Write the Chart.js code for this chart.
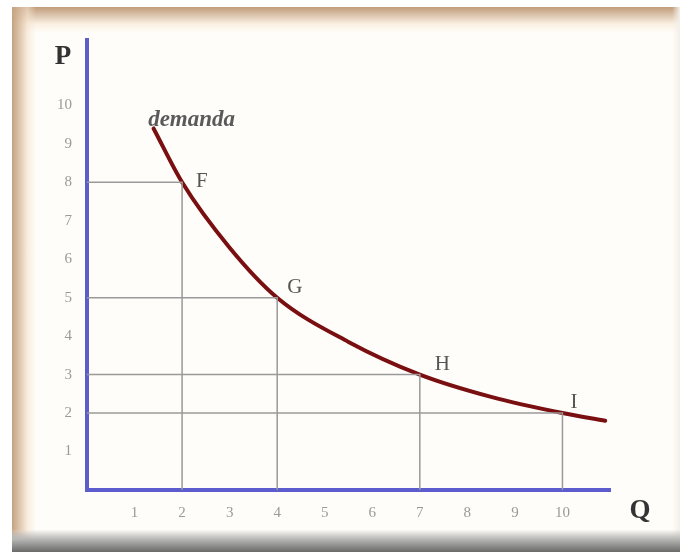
<!DOCTYPE html>
<html>
<head>
<meta charset="utf-8">
<script src="https://cdn.jsdelivr.net/npm/chart.js@4.4.0/dist/chart.umd.min.js"></script>
<style>
  body { margin: 0; background: #fff; }
  #wrap { position: relative; width: 684px; height: 552px; overflow: hidden; }
  .frame { position: absolute; left: 12px; top: 7px; width: 668px; height: 545px; background: #fffdf9; }
  .top { position: absolute; left: 12px; top: 7px; width: 668px; height: 26px;
         background: linear-gradient(#c09c7b, rgba(248,234,216,0.7) 65%, rgba(255,253,249,0)); }
  .left { position: absolute; left: 12px; top: 7px; width: 24px; height: 545px;
          background: linear-gradient(to right, #c5a281, rgba(244,226,205,0.6) 65%, rgba(255,253,249,0)); }
  .right { position: absolute; left: 672px; top: 7px; width: 8px; height: 545px;
           background: linear-gradient(to right, rgba(255,253,249,0), #f3efe8); }
  .bottom { position: absolute; left: 12px; top: 530px; width: 668px; height: 22px;
            background: linear-gradient(rgba(230,230,228,0.2), #b9b9b7 40%, #6a6a6a); }
  canvas { position: absolute; left: 0; top: 0; }
</style>
</head>
<body>
<div id="wrap">
  <div class="frame"></div>
  <div class="top"></div>
  <div class="left"></div>
  <div class="right"></div>
  <div class="bottom"></div>
  <canvas id="chart" width="684" height="552"></canvas>
</div>
<script>
// demand curve
const curveQ = [1.4, 2, 3, 4, 5.5, 7, 8.5, 10, 10.9];
const curveP = [9.4, 8, 6.3, 5, 3.85, 3, 2.42, 2, 1.8];

// marked points
const pointNames = ['F', 'G', 'H', 'I'];
const pointQ = [2, 4, 7, 10];
const pointP = [8, 5, 3, 2];

const xTicks = [1, 2, 3, 4, 5, 6, 7, 8, 9, 10];
const yTicks = [1, 2, 3, 4, 5, 6, 7, 8, 9, 10];

const serif = '"Liberation Serif", "DejaVu Serif", serif';

const datasets = [];

// guide lines from each point to the axes
pointNames.forEach((name, i) => {
    datasets.push({
        data: [{x: 0, y: pointP[i]}, {x: pointQ[i], y: pointP[i]}, {x: pointQ[i], y: 0}],
        borderColor: '#9a9a9a',
        borderWidth: 1.5,
        pointRadius: 0,
        tension: 0
    });
});

datasets.push({
    data: curveQ.map((q, i) => ({x: q, y: curveP[i]})),
    borderColor: '#7a0f12',
    borderWidth: 4,
    pointRadius: 0,
    cubicInterpolationMode: 'monotone',
    borderCapStyle: 'round'
});

// text labels placed with the scales
const labelsPlugin = {
    id: 'labels',
    afterDatasetsDraw(chart) {
        const ctx = chart.ctx;
        const xs = chart.scales.x, ys = chart.scales.y;
        ctx.save();
        ctx.textBaseline = 'middle';
        ctx.textAlign = 'left';
        const offs = [[14, -1], [10, -10], [15, -10], [8, -11]];
        ctx.fillStyle = '#555';
        ctx.font = '21px ' + serif;
        pointNames.forEach((name, i) => {
            ctx.fillText(name, xs.getPixelForValue(pointQ[i]) + offs[i][0],
                               ys.getPixelForValue(pointP[i]) + offs[i][1]);
        });
        ctx.font = 'italic bold 23px ' + serif;
        ctx.fillStyle = '#5a5a5a';
        ctx.textAlign = 'center';
        ctx.fillText('demanda', xs.getPixelForValue(2.2), ys.getPixelForValue(9.62));
        ctx.font = 'bold 27px ' + serif;
        ctx.fillStyle = '#333';
        ctx.fillText('P', xs.left - 24, ys.getPixelForValue(11.25));
        ctx.fillText('Q', xs.right + 30, ys.bottom + 21);
        ctx.restore();
    }
};

new Chart(document.getElementById('chart'), {
    type: 'line',
    data: { datasets: datasets },
    options: {
        responsive: false,
        animation: false,
        layout: { padding: { top: 40, right: 74, bottom: 0, left: 0 } },
        plugins: { legend: { display: false }, tooltip: { enabled: false } },
        scales: {
            x: {
                type: 'linear',
                min: 0,
                max: 11,
                afterFit: s => { s.height = 62; },
                afterBuildTicks: s => { s.ticks = xTicks.map(v => ({value: v})); },
                grid: { display: false },
                border: { color: '#5c5ccf', width: 4 },
                ticks: { color: '#9a9a9a', font: { family: serif, size: 15 }, padding: 6 }
            },
            y: {
                type: 'linear',
                min: 0,
                max: 11.7,
                afterFit: s => { s.width = 87; },
                afterBuildTicks: s => { s.ticks = yTicks.map(v => ({value: v})); },
                grid: { display: false },
                border: { color: '#5c5ccf', width: 4 },
                ticks: { color: '#9a9a9a', font: { family: serif, size: 15 }, padding: 7 }
            }
        }
    },
    plugins: [labelsPlugin]
});
</script>
</body>
</html>
